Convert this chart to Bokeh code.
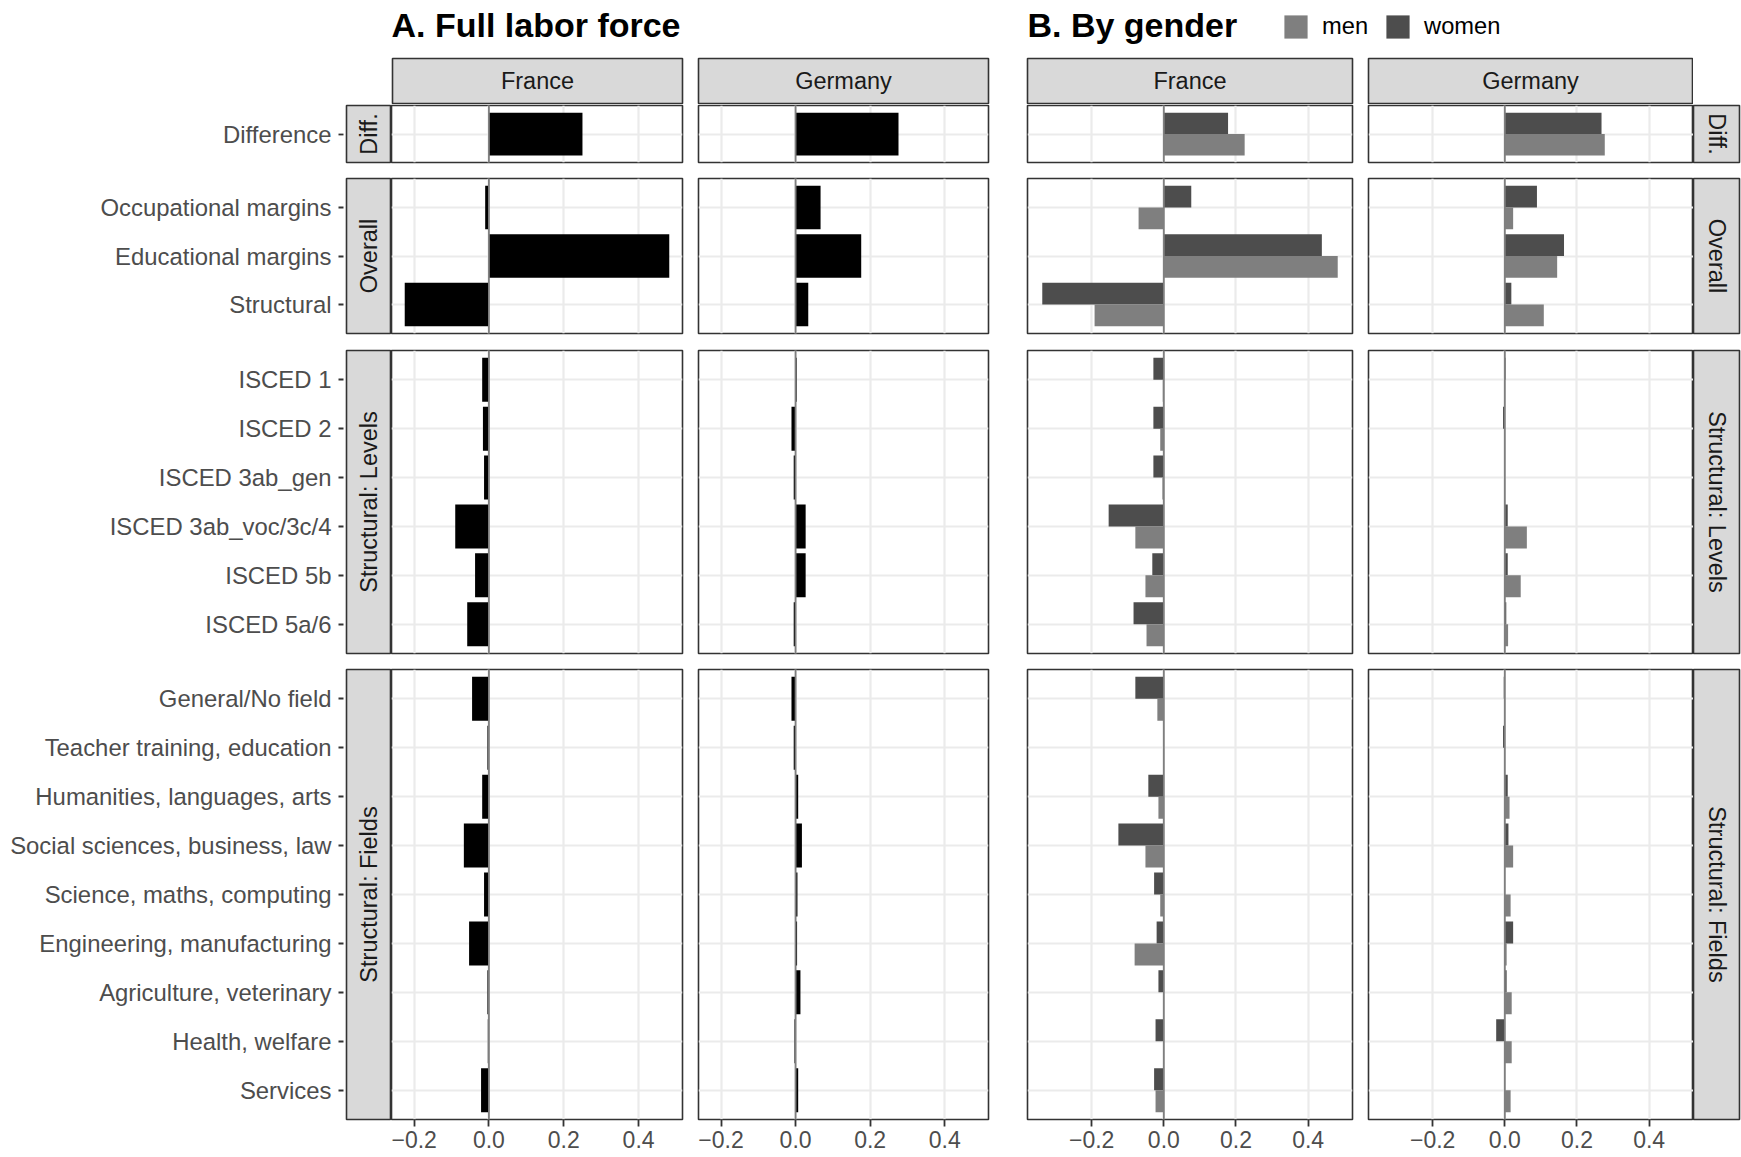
import math
from bokeh.plotting import figure
from bokeh.models import (FactorRange, Range1d, FixedTicker, CustomJSTickFormatter,
                          Span, Label, Legend, LegendItem, ColumnDataSource, Spacer)
from bokeh.layouts import row, column
from bokeh.transform import dodge
from bokeh.embed import file_html
from bokeh.resources import INLINE
from bokeh.core.validation import silence
from bokeh.core.validation.warnings import MISSING_RENDERERS

silence(MISSING_RENDERERS, True)

# ---------------- data ----------------
diff_rows = ["Difference"]
overall_rows = ["Occupational margins", "Educational margins", "Structural"]
level_rows = ["ISCED 1", "ISCED 2", "ISCED 3ab_gen", "ISCED 3ab_voc/3c/4",
              "ISCED 5b", "ISCED 5a/6"]
field_rows = ["General/No field", "Teacher training, education",
              "Humanities, languages, arts", "Social sciences, business, law",
              "Science, maths, computing", "Engineering, manufacturing",
              "Agriculture, veterinary", "Health, welfare", "Services"]
section_labels = ["Diff.", "Overall", "Structural: Levels", "Structural: Fields"]
countries = ["France", "Germany"]
genders = ["men", "women"]
x_ticks = [-0.2, 0.0, 0.2, 0.4]
panel_titles = ["A. Full labor force", "B. By gender"]

# values in the order: diff, overall(3), levels(6), fields(9)
france_all = [0.250,
              -0.010, 0.482, -0.225,
              -0.018, -0.016, -0.013, -0.090, -0.037, -0.058,
              -0.045, -0.004, -0.018, -0.067, -0.013, -0.053, -0.004, -0.003, -0.021]
germany_all = [0.276,
               0.067, 0.176, 0.034,
               0.003, -0.011, -0.005, 0.027, 0.027, -0.005,
               -0.011, -0.005, 0.007, 0.017, 0.005, 0.004, 0.013, -0.003, 0.007]
france_men = [0.224,
              -0.070, 0.482, -0.192,
              -0.003, -0.010, -0.004, -0.079, -0.051, -0.048,
              -0.018, -0.002, -0.015, -0.051, -0.010, -0.081, -0.002, -0.002, -0.023]
france_women = [0.178,
                0.076, 0.438, -0.337,
                -0.029, -0.029, -0.029, -0.153, -0.032, -0.084,
                -0.079, -0.002, -0.043, -0.126, -0.027, -0.020, -0.015, -0.023, -0.027]
germany_men = [0.277,
               0.023, 0.145, 0.108,
               0.000, 0.000, 0.000, 0.061, 0.044, 0.009,
               0.000, 0.000, 0.013, 0.023, 0.016, 0.005, 0.019, 0.019, 0.016]
germany_women = [0.268,
                 0.089, 0.164, 0.018,
                 0.002, -0.005, -0.002, 0.008, 0.008, 0.004,
                 -0.003, -0.005, 0.008, 0.010, -0.002, 0.023, 0.005, -0.024, -0.002]

# ---------------- style ----------------
FONT = "Liberation Sans"
BAR_A = "#000000"
MEN_C = "#7F7F7F"
WOMEN_C = "#4D4D4D"
GRID_C = "#EBEBEB"
BORDER_C = "#333333"
STRIP_C = "#D9D9D9"
AXIS_TXT = "#4D4D4D"
STRIP_TXT = "#1A1A1A"
ZERO_C = "#7F7F7F"

sections = [diff_rows, overall_rows, level_rows, field_rows]
bounds = []
_s = 0
for rws in sections:
    bounds.append((_s, _s + len(rws)))
    _s += len(rws)


def padded(vals):
    lo, hi = min(vals), max(vals)
    pad = 0.05 * (hi - lo)
    return Range1d(lo - pad, hi + pad)


xr_a = padded(france_all + germany_all)
xr_b = padded(france_men + france_women + germany_men + germany_women)

# layout: (min_border_left, frame_width, min_border_right)
col_L = (346, 45, 0)
col_AF = (0, 291, 8)
col_AG = (8, 290, 19)
col_BF = (20, 325, 8)
col_BG = (8, 325, 0)
col_R = (0, 46, 2)
# (min_border_top, frame_height, min_border_bottom)
row_specs = [(1, 57, 8), (8, 155, 9), (8, 303, 8), (8, 450, 38)]


def base_fig(xr, yr, col, rw, **kw):
    lb, fw, rb = col
    tb, fh, bb = rw
    p = figure(title=None, x_range=xr, y_range=yr, frame_width=fw, frame_height=fh,
               min_border_left=lb, min_border_right=rb,
               min_border_top=tb, min_border_bottom=bb,
               toolbar_location=None, output_backend="svg",
               background_fill_color="white", border_fill_color="white",
               outline_line_color=BORDER_C, outline_line_width=1.6, **kw)
    return p


def make_panel(xr, yr, col, rw, bottom):
    p = base_fig(xr, yr, col, rw,
                 x_axis_location="below" if bottom else None, y_axis_location=None)
    p.xgrid.ticker = FixedTicker(ticks=x_ticks)
    for g in p.grid:
        g.grid_line_color = GRID_C
        g.grid_line_width = 2.2
    if bottom:
        ax = p.xaxis[0]
        ax.ticker = FixedTicker(ticks=x_ticks)
        ax.formatter = CustomJSTickFormatter(
            code="return tick.toFixed(1).replace('-', '\\u2212');")
        ax.axis_line_color = None
        ax.major_tick_line_color = BORDER_C
        ax.major_tick_line_width = 1.8
        ax.major_tick_in = 0
        ax.major_tick_out = 7
        ax.minor_tick_line_color = None
        ax.major_label_text_font = FONT
        ax.major_label_text_font_size = "23px"
        ax.major_label_text_color = AXIS_TXT
        ax.major_label_standoff = 4
    return p


def add_zero(p):
    p.add_layout(Span(location=0, dimension="height", line_color=ZERO_C, line_width=1.8))


def strip_label(text, angle):
    return Label(x=0.5, y=0.5, text=text, angle=angle, text_align="center",
                 text_baseline="middle", text_font=FONT, text_font_size="23.5px",
                 text_color=STRIP_TXT)


# ---------------- title row ----------------
tf = figure(title=None, x_range=Range1d(0, 1741), y_range=Range1d(0, 57),
            frame_width=1741, frame_height=57, min_border_left=0, min_border_right=0,
            min_border_top=0, min_border_bottom=0, x_axis_location=None,
            y_axis_location=None, outline_line_color=None, toolbar_location=None,
            output_backend="svg")
tf.grid.visible = False
tf.add_layout(Label(x=391, y=33, text=panel_titles[0], text_font=FONT,
                    text_font_size="34px", text_font_style="bold", text_color="black",
                    text_baseline="alphabetic"))
tf.add_layout(Label(x=1027, y=33, text=panel_titles[1], text_font=FONT,
                    text_font_size="34px", text_font_style="bold", text_color="black",
                    text_baseline="alphabetic"))
# zero-size proxy bars, only used to give the legend its keys
proxy = ColumnDataSource(dict(y=[0], left=[0], right=[0]))
r_men = tf.hbar(y="y", left="left", right="right", height=0, source=proxy,
                fill_color=MEN_C, line_color=None)
r_women = tf.hbar(y="y", left="left", right="right", height=0, source=proxy,
                  fill_color=WOMEN_C, line_color=None)
legend = Legend(items=[LegendItem(label=genders[0], renderers=[r_men]),
                       LegendItem(label=genders[1], renderers=[r_women])],
                orientation="horizontal", location=(1281, 16),
                glyph_width=29, glyph_height=29, label_height=29,
                label_standoff=12, spacing=15, padding=0, margin=0,
                border_line_color=None, background_fill_alpha=0,
                label_text_font=FONT, label_text_font_size="23.7px",
                label_text_color="black")
tf.add_layout(legend)

# ---------------- strip row ----------------
strip_row = [Spacer(width=391, height=47)]
for text, col in [(countries[0], (1, 290, 8)), (countries[1], (8, 290, 19)),
                  (countries[0], (20, 325, 8)), (countries[1], (8, 324, 1))]:
    s = base_fig(Range1d(0, 1), Range1d(0, 1), col, (1, 45, 1),
                 x_axis_location=None, y_axis_location=None)
    s.background_fill_color = STRIP_C
    s.grid.visible = False
    s.add_layout(strip_label(text, 0))
    strip_row.append(s)
strip_row.append(Spacer(width=48, height=47))

rows_layout = [tf, row(*strip_row)]

# ---------------- panel rows ----------------
for i, (rws, (a, b), sec, rw) in enumerate(zip(sections, bounds, section_labels, row_specs)):
    bottom = i == len(sections) - 1
    yr = FactorRange(factors=list(reversed(rws)), range_padding=0.1,
                     range_padding_units="absolute")

    # left strip carrying the category axis
    ls = base_fig(Range1d(0, 1), yr, col_L, rw, x_axis_location=None,
                  y_axis_location="left")
    ls.background_fill_color = STRIP_C
    ls.grid.visible = False
    ay = ls.yaxis[0]
    ay.axis_line_color = None
    ay.major_tick_line_color = BORDER_C
    ay.major_tick_line_width = 1.8
    ay.major_tick_in = -3
    ay.major_tick_out = 8
    ay.major_label_standoff = 7
    ay.major_label_text_font = FONT
    ay.major_label_text_font_size = "23.9px"
    ay.major_label_text_color = AXIS_TXT
    lab = strip_label(sec, math.pi / 2)
    lab.y = len(rws) / 2
    ls.add_layout(lab)

    # A: full labour force
    pa_f = make_panel(xr_a, yr, col_AF, rw, bottom)
    pa_f.hbar(y="cat", left=0, right="val", height=0.9, fill_color=BAR_A, line_color=None,
              source=ColumnDataSource(dict(cat=rws, val=france_all[a:b])))
    add_zero(pa_f)
    pa_g = make_panel(xr_a, yr, col_AG, rw, bottom)
    pa_g.hbar(y="cat", left=0, right="val", height=0.9, fill_color=BAR_A, line_color=None,
              source=ColumnDataSource(dict(cat=rws, val=germany_all[a:b])))
    add_zero(pa_g)

    # B: by gender
    panels_b = []
    for col, men, women in [(col_BF, france_men, france_women),
                            (col_BG, germany_men, germany_women)]:
        pb = make_panel(xr_b, yr, col, rw, bottom)
        src = ColumnDataSource(dict(cat=rws, men=men[a:b], women=women[a:b]))
        pb.hbar(y=dodge("cat", 0.225, range=yr), left=0, right="women", height=0.45,
                fill_color=WOMEN_C, line_color=None, source=src)
        pb.hbar(y=dodge("cat", -0.225, range=yr), left=0, right="men", height=0.45,
                fill_color=MEN_C, line_color=None, source=src)
        add_zero(pb)
        panels_b.append(pb)

    # right strip
    rs = base_fig(Range1d(0, 1), Range1d(0, 1), col_R, rw, x_axis_location=None,
                  y_axis_location=None)
    rs.background_fill_color = STRIP_C
    rs.grid.visible = False
    rs.add_layout(strip_label(sec, -math.pi / 2))

    rows_layout.append(row(ls, pa_f, pa_g, panels_b[0], panels_b[1], rs))

layout = column(*rows_layout)
open("out.html", "w").write(file_html(layout, INLINE))
